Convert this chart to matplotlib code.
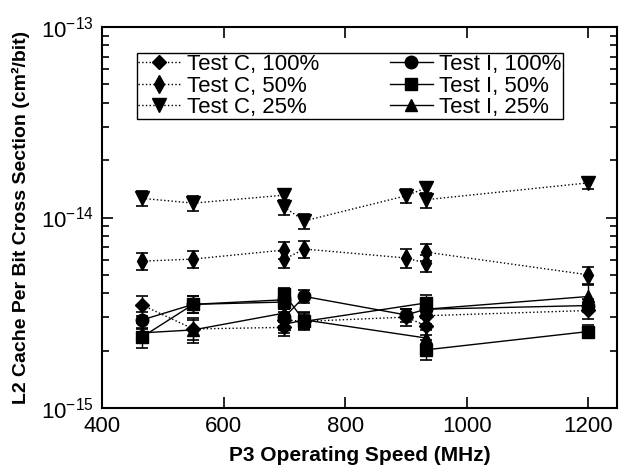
import matplotlib
matplotlib.use("Agg")
import matplotlib.pyplot as plt
from matplotlib.ticker import LogLocator, FixedLocator, NullFormatter

plt.rcParams['font.family'] = ['Liberation Sans', 'DejaVu Sans']
plt.rcParams['mathtext.fontset'] = 'custom'
plt.rcParams['mathtext.rm'] = 'Liberation Sans'
plt.rcParams['mathtext.it'] = 'Liberation Sans:italic'
plt.rcParams['mathtext.bf'] = 'Liberation Sans:bold'
plt.rcParams['axes.unicode_minus'] = False

# ---- data (MHz, cm^2/bit) ----
c100_x = [466, 550, 700, 700, 733, 900, 933, 933, 1200]
c100_y = [3.47e-15, 2.6e-15, 2.65e-15, 2.9e-15, 2.85e-15, 3.0e-15, 2.7e-15, 3.05e-15, 3.25e-15]
c100_err = [0.12, 0.12, 0.10, 0.10, 0.10, 0.10, 0.10, 0.10, 0.10]

c50_x = [466, 550, 700, 700, 733, 900, 933, 933, 1200]
c50_y = [5.9e-15, 6.05e-15, 6.75e-15, 6.05e-15, 6.83e-15, 6.13e-15, 5.76e-15, 6.58e-15, 5.0e-15]
c50_err = [0.10, 0.10, 0.10, 0.10, 0.10, 0.11, 0.10, 0.10, 0.10]

c25_x = [466, 550, 700, 700, 733, 900, 933, 933, 1200]
c25_y = [1.26e-14, 1.19e-14, 1.31e-14, 1.13e-14, 0.96e-14, 1.30e-14, 1.43e-14, 1.24e-14, 1.52e-14]
c25_err = [0.09, 0.09, 0.08, 0.09, 0.09, 0.08, 0.08, 0.09, 0.07]

i100_x = [466, 550, 700, 700, 733, 900, 933, 1200]
i100_y = [2.9e-15, 3.5e-15, 3.7e-15, 3.0e-15, 3.85e-15, 3.08e-15, 3.3e-15, 3.45e-15]
i100_err = [0.10, 0.10, 0.10, 0.10, 0.08, 0.08, 0.08, 0.08]

i50_x = [466, 550, 700, 700, 733, 933, 933, 1200]
i50_y = [2.36e-15, 3.5e-15, 3.6e-15, 3.95e-15, 2.85e-15, 3.56e-15, 2.02e-15, 2.52e-15]
i50_err = [0.12, 0.10, 0.08, 0.08, 0.08, 0.10, 0.12, 0.08]

i25_x = [466, 550, 700, 700, 733, 933, 933, 1200]
i25_y = [2.48e-15, 2.57e-15, 3.15e-15, 2.75e-15, 2.9e-15, 2.33e-15, 3.3e-15, 3.85e-15]
i25_err = [0.12, 0.15, 0.10, 0.10, 0.10, 0.10, 0.10, 0.15]

labels = ["Test C, 100%", "Test C, 50%", "Test C, 25%",
          "Test I, 100%", "Test I, 50%", "Test I, 25%"]
x_ticks = [400, 600, 800, 1000, 1200]
y_ticks = [1e-15, 1e-14, 1e-13]

W, H = 619, 466
fig = plt.figure(figsize=(W / 100, H / 100), dpi=100)
ax = fig.add_axes([102 / W, 1 - 408 / H, (617 - 102) / W, (408 - 27) / H])
ax.set_yscale('log')

series = [
    (c100_x, c100_y, c100_err, 'D', 7, ':'),
    (c50_x, c50_y, c50_err, 'd', 9, ':'),
    (c25_x, c25_y, c25_err, 'v', 10, ':'),
    (i100_x, i100_y, i100_err, 'o', 9, '-'),
    (i50_x, i50_y, i50_err, 's', 9, '-'),
    (i25_x, i25_y, i25_err, '^', 9, '-'),
]

handles = []
for (xs, ys, es, mk, ms, ls) in series:
    yerr = [y * e for y, e in zip(ys, es)]
    ax.errorbar(xs, ys, yerr=yerr, fmt='none', ecolor='black',
                elinewidth=1.0, capsize=4, capthick=1.2, zorder=2)
    ln, = ax.plot(xs, ys, linestyle=ls, color='black', linewidth=1.0,
                  marker=mk, markersize=ms, markerfacecolor='black',
                  markeredgecolor='black', zorder=3)
    handles.append(ln)

ax.set_xlim(400, 1247)
ax.set_ylim(1e-15, 1e-13)
ax.xaxis.set_major_locator(FixedLocator(x_ticks))
ax.yaxis.set_major_locator(FixedLocator(y_ticks))
ax.yaxis.set_minor_locator(LogLocator(base=10, subs=range(2, 10), numticks=20))
ax.yaxis.set_minor_formatter(NullFormatter())
ax.tick_params(which='both', direction='in', top=True, right=True,
               width=1.2, colors='black')
ax.tick_params(which='major', length=8, labelsize=16, pad=6)
ax.tick_params(which='minor', length=5)
for s in ax.spines.values():
    s.set_linewidth(1.5)

ax.set_xlabel("P3 Operating Speed (MHz)", fontsize=15, fontweight='bold', labelpad=6)
ax.set_ylabel("L2 Cache Per Bit Cross Section (cm\u00b2/bit)", fontsize=14,
              fontweight='bold', labelpad=8)

leg = ax.legend(handles, labels, ncol=2, loc='upper left',
                bbox_to_anchor=(137 / W, 1 - 53 / H),
                bbox_transform=fig.transFigure, borderaxespad=0,
                fontsize=16, frameon=True, fancybox=False, framealpha=1,
                edgecolor='black', handlelength=1.9, handletextpad=0.3,
                labelspacing=0.02, columnspacing=3.2, borderpad=0.05)
leg.get_frame().set_linewidth(1.0)

fig.savefig("out.png", dpi=100)
